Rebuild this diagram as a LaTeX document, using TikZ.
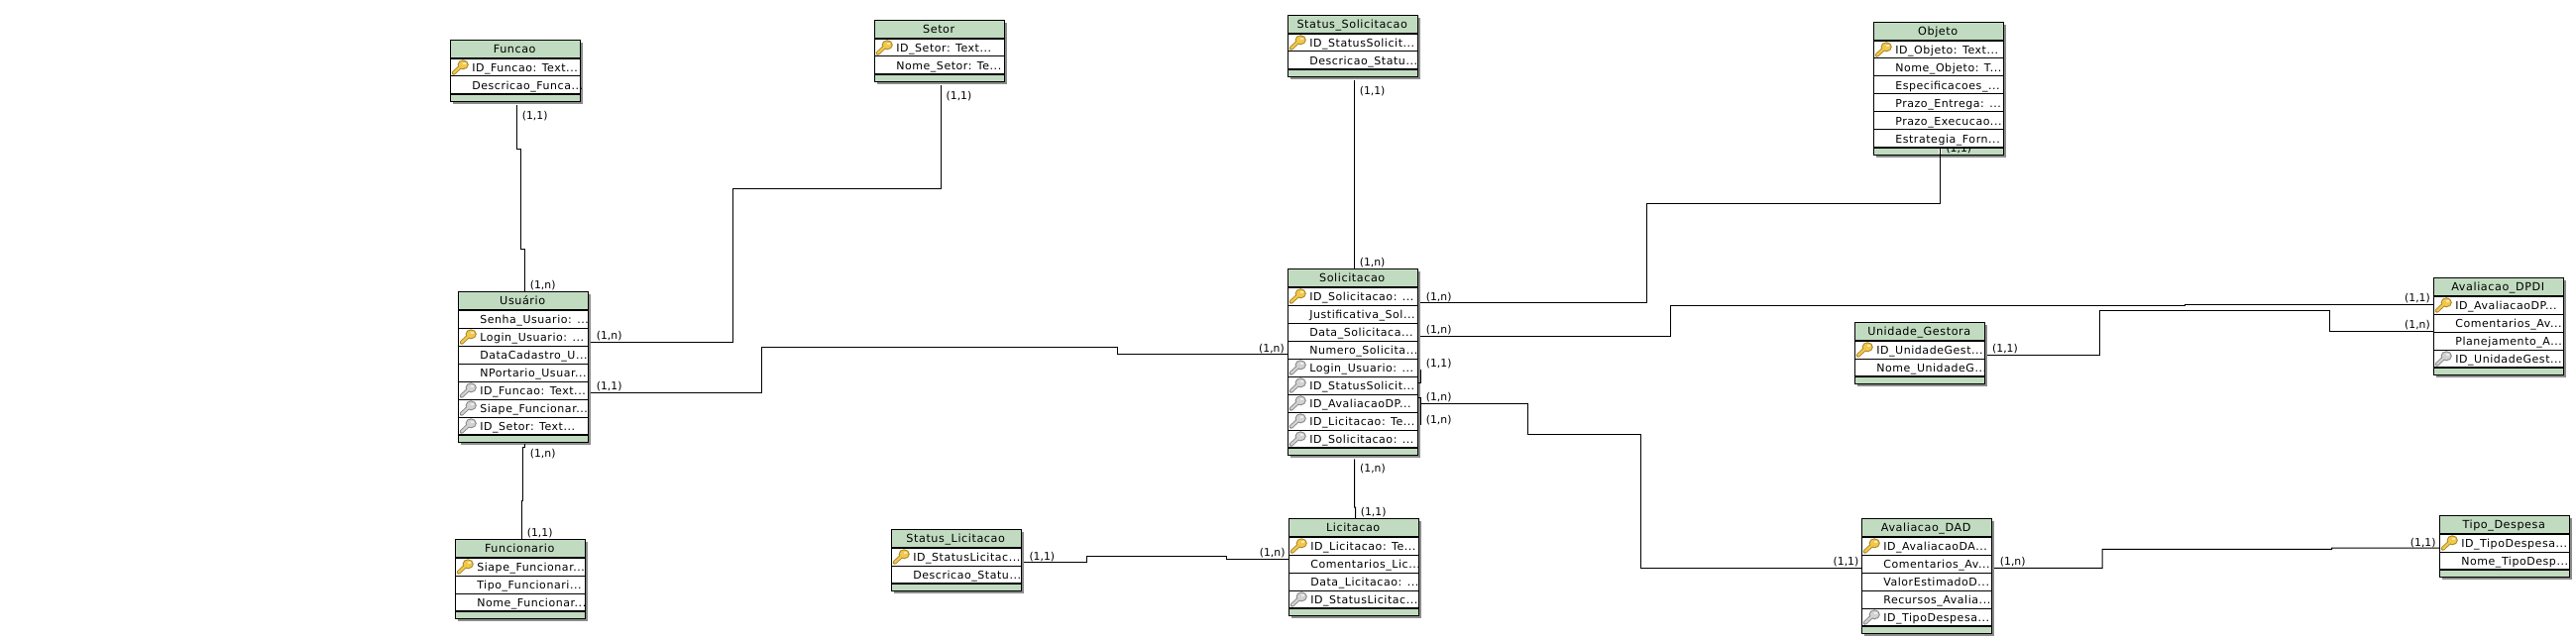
\documentclass[tikz,border=0pt]{standalone}
\usepackage{fontspec}
\setmainfont{DejaVu Sans}
\newfontfamily\rowfont[LetterSpace=5]{DejaVu Sans}
\usetikzlibrary{calc}
\definecolor{hdr}{HTML}{C1DBC0}
\definecolor{shd}{HTML}{8C8C8C}
\definecolor{goldfill}{HTML}{F2C84A}
\definecolor{goldline}{HTML}{A8862A}
\definecolor{greyfill}{HTML}{D2D2D2}
\definecolor{greyline}{HTML}{868686}
\newcommand\dd{...}
\tikzset{
  x=1bp,y=-1bp,
  tblframe/.style={draw=black,line width=1.3bp,fill=hdr,minimum width=131bp,inner sep=0pt,outer sep=0pt},
  rowline/.style={draw=black,line width=1bp},
  sepline/.style={draw=black,line width=2bp},
  rowtext/.style={anchor=base west,inner sep=0pt,font=\rowfont\fontsize{11bp}{12bp}\selectfont,text=black},
  titletext/.style={anchor=base,inner sep=0pt,font=\rowfont\fontsize{11.2bp}{12bp}\selectfont,text=black},
  card/.style={anchor=base west,inner sep=0pt,font=\fontsize{10.8bp}{12bp}\selectfont,text=black},
  rel/.style={draw=black,line width=1bp,miter limit=2},
}
\newcommand\keyglyph[4]{%x,y,fill,line
  \begin{scope}[shift={(#1,#2)}]
    \draw[#4,line width=4bp,line cap=round] (2,14) -- (9,7.5);
    \fill[#4] (11.5,5.6) ellipse [x radius=5.6bp,y radius=5bp];
    \draw[#3,line width=2.2bp,line cap=round] (2,14) -- (9,7.5);
    \fill[#3] (11.5,5.6) ellipse [x radius=4.5bp,y radius=3.9bp];
    \fill[#4!70!white] (11,2.8) rectangle (14.6,5.6);
    \fill[white!60!#3] (11.7,3.5) rectangle (13.8,5);
  \end{scope}}
\newcommand\keyP[2]{\keyglyph{#1}{#2}{goldfill}{goldline}}
\newcommand\keyF[2]{\keyglyph{#1}{#2}{greyfill}{greyline}}
\newcommand\keyN[2]{}
\newcommand\ertable[6]{%
  \pgfmathsetmacro\tblh{18*#4+26}
  \fill[shd] (#2+2,#3+2) rectangle ++(131,\tblh);
  \node[tblframe,minimum height=\tblh bp,anchor=north west] (#1) at (#2,#3) {};
  \fill[white] (#2,#3+18) rectangle (#2+131,#3+18.5+18*#4);
  \draw[sepline] (#2,#3+18.2) -- ++(131,0);
  \foreach \ty/\tx [count=\k from 0] in {#6}{
    \pgfmathsetmacro\rtop{#3+19+18*\k}
    \pgfmathsetmacro\rbase{#3+32+18*\k}
    \pgfmathsetmacro\rbot{#3+18.3+18*(\k+1)}
    \csname key\ty\endcsname{#2+1}{\rtop}
    \node[rowtext] (#1-r\k) at (#2+21.4,\rbase) {\tx};
    \draw[rowline] (#2,\rbot) -- ++(131,0);
  }
  \draw[sepline] (#2,#3+18.4+18*#4) -- ++(131,0);
  \node[titletext] (#1-t) at (#2+64.5,#3+12.5) {#5};
  \draw[black,line width=1.3bp] (#1.north west) rectangle (#1.south east);
}
\begin{document}
\begin{tikzpicture}
\useasboundingbox (0,0) rectangle (2599,646);
\fill[white] (0,0) rectangle (2599,646);

\ertable{funcao}{454.7}{40.7}{2}{Funcao}{P/ID\_Funcao: Text\dd,N/Descricao\_Funca\dd}
\ertable{usuario}{462.7}{294.7}{7}{Usuário}{N/Senha\_Usuario: \dd,P/Login\_Usuario: \dd,N/DataCadastro\_U\dd,N/NPortario\_Usuar\dd,F/ID\_Funcao: Text\dd,F/Siape\_Funcionar\dd,F/ID\_Setor: Text\dd}
\ertable{funcionario}{459.7}{544.7}{3}{Funcionario}{P/Siape\_Funcionar\dd,N/Tipo\_Funcionari\dd,N/Nome\_Funcionar\dd}
\ertable{setor}{882.7}{20.7}{2}{Setor}{P/ID\_Setor: Text\dd,N/Nome\_Setor: Te\dd}
\ertable{statussol}{1299.7}{15.7}{2}{Status\_Solicitacao}{P/ID\_StatusSolicit\dd,N/Descricao\_Statu\dd}
\ertable{solicitacao}{1299.7}{271.7}{9}{Solicitacao}{P/ID\_Solicitacao: \dd,N/Justificativa\_Sol\dd,N/Data\_Solicitaca\dd,N/Numero\_Solicita\dd,F/Login\_Usuario: \dd,F/ID\_StatusSolicit\dd,F/ID\_AvaliacaoDP\dd,F/ID\_Licitacao: Te\dd,F/ID\_Solicitacao: \dd}
\ertable{licitacao}{1300.7}{523.7}{4}{Licitacao}{P/ID\_Licitacao: Te\dd,N/Comentarios\_Lic\dd,N/Data\_Licitacao: \dd,F/ID\_StatusLicitac\dd}
\ertable{statuslic}{899.7}{534.7}{2}{Status\_Licitacao}{P/ID\_StatusLicitac\dd,N/Descricao\_Statu\dd}
\ertable{objeto}{1890.7}{22.7}{6}{Objeto}{P/ID\_Objeto: Text\dd,N/Nome\_Objeto: T\dd,N/Especificacoes\_\dd,N/Prazo\_Entrega: \dd,N/Prazo\_Execucao\dd,N/Estrategia\_Forn\dd}
\ertable{unidade}{1871.7}{325.7}{2}{Unidade\_Gestora}{P/ID\_UnidadeGest\dd,N/Nome\_UnidadeG\dd}
\ertable{dad}{1878.7}{523.7}{5}{Avaliacao\_DAD}{P/ID\_AvaliacaoDA\dd,N/Comentarios\_Av\dd,N/ValorEstimadoD\dd,N/Recursos\_Avalia\dd,F/ID\_TipoDespesa\dd}
\ertable{dpdi}{2455.7}{280.7}{4}{Avaliacao\_DPDI}{P/ID\_AvaliacaoDP\dd,N/Comentarios\_Av\dd,N/Planejamento\_A\dd,F/ID\_UnidadeGest\dd}
\ertable{tipo}{2461.7}{520.7}{2}{Tipo\_Despesa}{P/ID\_TipoDespesa\dd,N/Nome\_TipoDesp\dd}

% footer of Objeto: partly hidden label and the gap round the connector
\begin{scope}
  \clip (1891,150) rectangle (2021,155.8);
  \node[card] (lblobj) at (1963.3,153.5) {(1,1)};
\end{scope}
\fill[white] (1956,150) rectangle (1959.4,155);

% connectors
\draw[rel] ($(funcao.north west)+(67,65.3)$) -- (521.7,150.3) -- (525.7,150.3) -- (525.7,251) -- (529.7,251) -- ($(usuario.north west)+(67,0)$);
\draw[rel] ($(usuario.north west)+(133,50.6)$) -- (739.7,345.3) -- (739.7,190.3) -- (949.7,190.3) -- ($(setor.north west)+(67,65.3)$);
\draw[rel] ($(usuario.north west)+(133,101.6)$) -- (768.3,396.3) -- (768.3,350.3) -- (1127,350.3) -- (1127,357.3) -- ($(solicitacao.north west)+(0,85.6)$);
\draw[rel] ($(usuario.north west)+(67,153.6)$) -- (529.7,451) -- (527.7,451) -- (527.7,505.7) -- (526.7,505.7) -- ($(funcionario.north west)+(67,0)$);
\draw[rel] ($(statussol.north west)+(66.6,65.3)$) -- ($(solicitacao.north west)+(66.6,0)$);
\draw[rel] ($(solicitacao.north west)+(133.3,33.6)$) -- (1661.3,305.3) -- (1661.3,205.3) -- (1957.3,205.3) -- ($(objeto.north west)+(66.6,127.3)$);
\draw[rel] ($(solicitacao.north west)+(133.3,67.6)$) -- (1685.3,339.3) -- (1685.3,308.3) -- (2204,308.3) -- (2204,307.3) -- ($(dpdi.north west)+(0,26.6)$);
\draw[rel] (1431,386) -- (1433.3,386) -- (1433.3,373.3);
\draw[rel] (1431,401.7) -- (1433.3,401.7) -- (1433.3,429.3);
\draw[rel] ($(solicitacao.north west)+(133.6,135.6)$) -- (1541.7,407.3) -- (1541.7,438.3) -- (1655.3,438.3) -- (1655.3,573.3) -- ($(dad.north west)+(0,49.6)$);
\draw[rel] ($(solicitacao.north west)+(66.9,191.6)$) -- (1366.7,512) -- (1367.7,512) -- ($(licitacao.north west)+(67,0)$);
\draw[rel] ($(statuslic.north west)+(133.6,32.6)$) -- (1096.3,567.3) -- (1096.3,561.3) -- (1237.3,561.3) -- (1237.3,564.3) -- ($(licitacao.north west)+(0,40.6)$);
\draw[rel] ($(unidade.north west)+(133.6,32.6)$) -- (2118.3,358.3) -- (2118.3,313.3) -- (2350.3,313.3) -- (2350.3,334.3) -- ($(dpdi.north west)+(0,53.6)$);
\draw[rel] ($(dad.north west)+(133.3,49.6)$) -- (2121,573.3) -- (2121,554.3) -- (2352.5,554.3) -- (2352.5,553) -- ($(tipo.north west)+(0,32.3)$);

% cardinalities
\node[card] (c1) at (526.7,120.2) {(1,1)};
\node[card] (c2) at (534.7,291.8) {(1,n)};
\node[card] (c3) at (601.7,342.8) {(1,n)};
\node[card] (c4) at (601.7,393.8) {(1,1)};
\node[card] (c5) at (534.7,461.8) {(1,n)};
\node[card] (c6) at (531.7,541.8) {(1,1)};
\node[card] (c7) at (954.5,100.2) {(1,1)};
\node[card] (c8) at (1371.6,95.2) {(1,1)};
\node[card] (c9) at (1371.6,268.8) {(1,n)};
\node[card] (c10) at (1270,355.2) {(1,n)};
\node[card] (c11) at (1438.7,303.2) {(1,n)};
\node[card] (c12) at (1438.7,336.8) {(1,n)};
\node[card] (c13) at (1438.7,370.8) {(1,1)};
\node[card] (c14) at (1438.7,404.8) {(1,n)};
\node[card] (c15) at (1438.7,427.8) {(1,n)};
\node[card] (c16) at (1372,476.8) {(1,n)};
\node[card] (c17) at (1372.7,520.5) {(1,1)};
\node[card] (c18) at (1270.7,561.8) {(1,n)};
\node[card] (c19) at (1038.3,565.2) {(1,1)};
\node[card] (c20) at (1849.5,570.8) {(1,1)};
\node[card] (c21) at (2017.7,570.8) {(1,n)};
\node[card] (c22) at (2431.7,551.5) {(1,1)};
\node[card] (c23) at (2010,355.8) {(1,1)};
\node[card] (c24) at (2426,304.8) {(1,1)};
\node[card] (c25) at (2426,331.8) {(1,n)};
\end{tikzpicture}
\end{document}
